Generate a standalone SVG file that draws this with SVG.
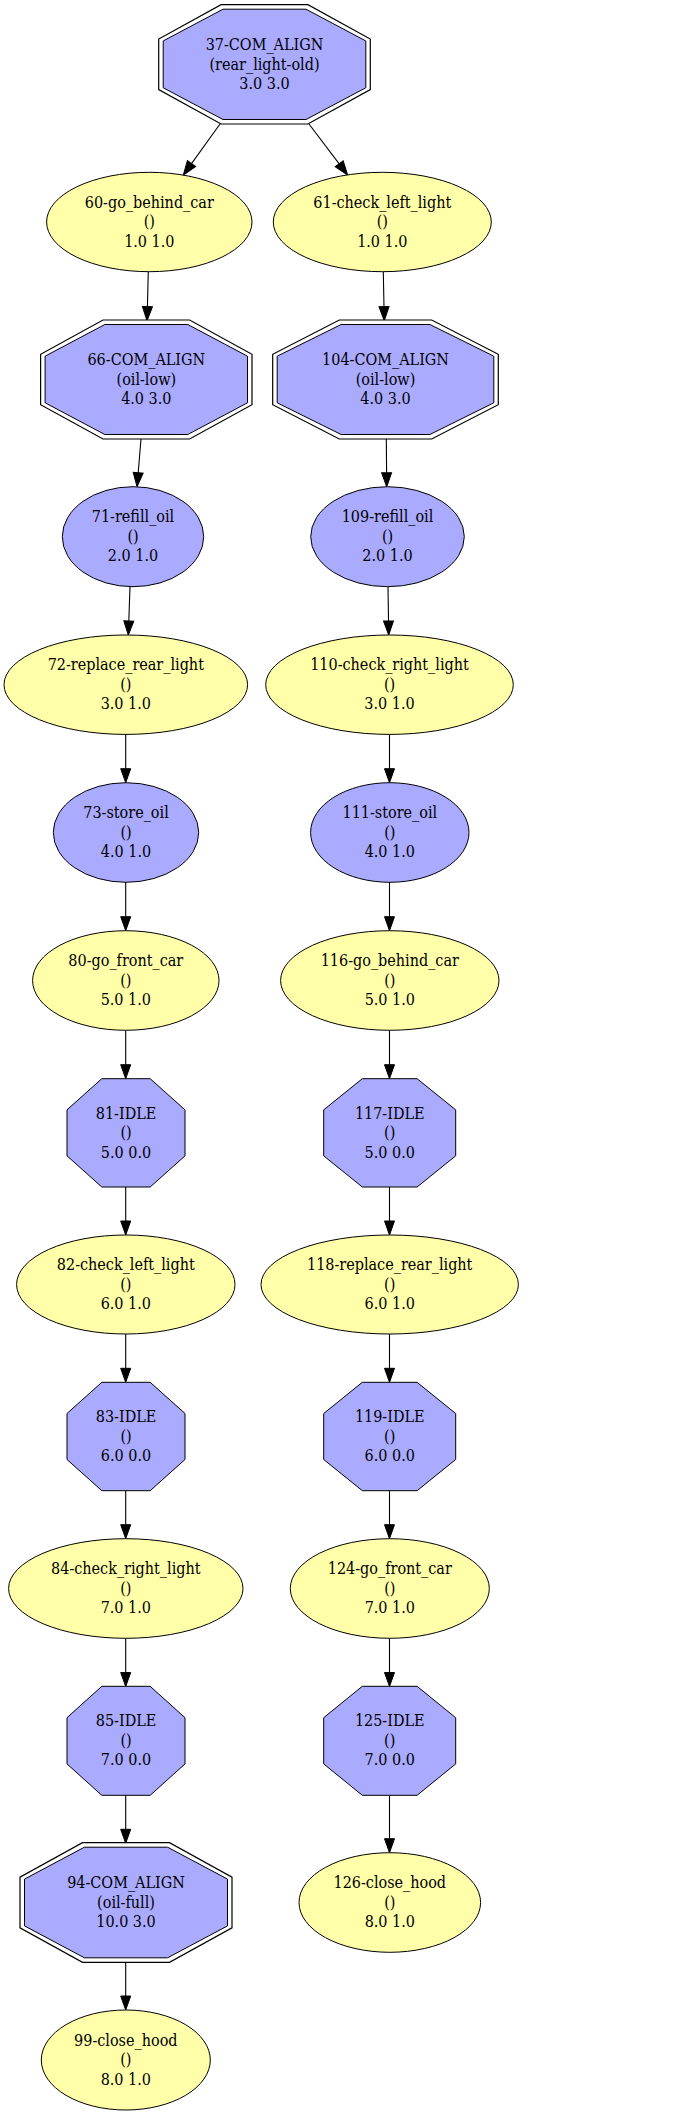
<svg xmlns="http://www.w3.org/2000/svg" width="679" height="2115" viewBox="0 0 679 2115">
<style>
text{font-family:"DejaVu Serif Condensed","DejaVu Serif","Liberation Serif",serif;font-stretch:condensed;font-size:16px;text-anchor:middle;fill:#000}
.y{fill:#ffffaa;stroke:#000;stroke-width:1}
.b{fill:#aaaaff;stroke:#000;stroke-width:1}
.o{fill:#fff;stroke:#000;stroke-width:1.2}
.e{fill:none;stroke:#000;stroke-width:1.1;marker-end:url(#ah)}
</style>
<defs>
<marker id="ah" markerUnits="userSpaceOnUse" markerWidth="15" markerHeight="11" refX="0" refY="5" orient="auto" overflow="visible">
<path d="M0,0 L14,5 L0,10 z" fill="#000" stroke="#000" stroke-width="1"/>
</marker>
</defs>
<rect width="679" height="2115" fill="#fff"/>
<g id="edges">
<line class="e" x1="220" y1="124" x2="191.5" y2="163.6"/>
<line class="e" x1="309" y1="124" x2="339.2" y2="163.8"/>
<line class="e" x1="148.3" y1="271.7" x2="147.4" y2="306.7"/>
<line class="e" x1="383.3" y1="271.7" x2="384" y2="306.7"/>
<line class="e" x1="141" y1="439" x2="138.2" y2="472.7"/>
<line class="e" x1="386.3" y1="439" x2="386.6" y2="472.7"/>
<line class="e" x1="130" y1="586.7" x2="128.8" y2="621"/>
<line class="e" x1="388" y1="586.7" x2="388.5" y2="621"/>
<line class="e" x1="125.7" y1="734.3" x2="125.7" y2="768.7"/>
<line class="e" x1="389.5" y1="734.3" x2="389.5" y2="768.7"/>
<line class="e" x1="125.7" y1="882.3" x2="125.7" y2="916.7"/>
<line class="e" x1="389.5" y1="882.3" x2="389.5" y2="916.7"/>
<line class="e" x1="125.7" y1="1030.3" x2="125.7" y2="1064.7"/>
<line class="e" x1="389.5" y1="1030.3" x2="389.5" y2="1064.7"/>
<line class="e" x1="125.7" y1="1187" x2="125.7" y2="1221"/>
<line class="e" x1="389.5" y1="1187" x2="389.5" y2="1221"/>
<line class="e" x1="125.7" y1="1334" x2="125.7" y2="1368.3"/>
<line class="e" x1="389.5" y1="1334" x2="389.5" y2="1368.3"/>
<line class="e" x1="125.7" y1="1490.7" x2="125.7" y2="1524.7"/>
<line class="e" x1="389.5" y1="1490.7" x2="389.5" y2="1524.7"/>
<line class="e" x1="125.7" y1="1638.3" x2="125.7" y2="1672.5"/>
<line class="e" x1="389.5" y1="1638.3" x2="389.5" y2="1672.5"/>
<line class="e" x1="125.7" y1="1795.3" x2="125.7" y2="1829.3"/>
<line class="e" x1="389.5" y1="1795.3" x2="389.5" y2="1838.7"/>
<line class="e" x1="125.7" y1="1962.3" x2="125.7" y2="1996"/>
</g>
<g id="n37">
<polygon class="o" points="221.1,4.7 307.9,4.7 370.3,39.05 370.3,89.65 307.9,124 221.1,124 158.7,89.65 158.7,39.05"/>
<polygon class="b" points="223,9.2 306,9.2 365.8,40.95 365.8,87.75 306,119.5 223,119.5 163.2,87.75 163.2,40.95"/>
<text x="264.5" y="50">37-COM_ALIGN</text><text x="264.5" y="69.5">(rear_light-old)</text><text x="264.5" y="89">3.0 3.0</text>
</g>
<g id="n60">
<ellipse class="y" cx="149.3" cy="222" rx="102.7" ry="49.7"/>
<text x="149.3" y="207.5">60-go_behind_car</text><text x="149.3" y="227">()</text><text x="149.3" y="246.5">1.0 1.0</text>
</g>
<g id="n61">
<ellipse class="y" cx="382.3" cy="222" rx="109" ry="49.7"/>
<text x="382.3" y="207.5">61-check_left_light</text><text x="382.3" y="227">()</text><text x="382.3" y="246.5">1.0 1.0</text>
</g>
<g id="n66">
<polygon class="o" points="103,320 189.6,320 252,354.3 252,404.7 189.6,439 103,439 40.6,404.7 40.6,354.3"/>
<polygon class="b" points="104.8,324.5 187.8,324.5 247.5,356.2 247.5,402.8 187.8,434.5 104.8,434.5 45.1,402.8 45.1,356.2"/>
<text x="146.3" y="365">66-COM_ALIGN</text><text x="146.3" y="384.5">(oil-low)</text><text x="146.3" y="404">4.0 3.0</text>
</g>
<g id="n104">
<polygon class="o" points="339.3,320 431.7,320 498.3,354.3 498.3,404.7 431.7,439 339.3,439 272.7,404.7 272.7,354.3"/>
<polygon class="b" points="341.1,324.5 429.9,324.5 493.8,356.2 493.8,402.8 429.9,434.5 341.1,434.5 277.2,402.8 277.2,356.2"/>
<text x="385.5" y="365">104-COM_ALIGN</text><text x="385.5" y="384.5">(oil-low)</text><text x="385.5" y="404">4.0 3.0</text>
</g>
<g id="n71">
<ellipse class="b" cx="133" cy="536.7" rx="70.7" ry="50"/>
<text x="133" y="522">71-refill_oil</text><text x="133" y="541.5">()</text><text x="133" y="561">2.0 1.0</text>
</g>
<g id="n109">
<ellipse class="b" cx="387.5" cy="536.7" rx="76.8" ry="50"/>
<text x="387.5" y="522">109-refill_oil</text><text x="387.5" y="541.5">()</text><text x="387.5" y="561">2.0 1.0</text>
</g>
<g id="n72">
<ellipse class="y" cx="125.8" cy="684.7" rx="121.8" ry="49.7"/>
<text x="125.8" y="670">72-replace_rear_light</text><text x="125.8" y="689.5">()</text><text x="125.8" y="709">3.0 1.0</text>
</g>
<g id="n110">
<ellipse class="y" cx="389.5" cy="684.7" rx="123.8" ry="49.7"/>
<text x="389.5" y="670">110-check_right_light</text><text x="389.5" y="689.5">()</text><text x="389.5" y="709">3.0 1.0</text>
</g>
<g id="n73">
<ellipse class="b" cx="126" cy="832.5" rx="72.7" ry="49.8"/>
<text x="126" y="818">73-store_oil</text><text x="126" y="837.5">()</text><text x="126" y="857">4.0 1.0</text>
</g>
<g id="n111">
<ellipse class="b" cx="389.8" cy="832.5" rx="79.2" ry="49.8"/>
<text x="389.8" y="818">111-store_oil</text><text x="389.8" y="837.5">()</text><text x="389.8" y="857">4.0 1.0</text>
</g>
<g id="n80">
<ellipse class="y" cx="125.8" cy="980.5" rx="93.2" ry="49.8"/>
<text x="125.8" y="966">80-go_front_car</text><text x="125.8" y="985.5">()</text><text x="125.8" y="1005">5.0 1.0</text>
</g>
<g id="n116">
<ellipse class="y" cx="389.8" cy="980.5" rx="109.2" ry="49.8"/>
<text x="389.8" y="966">116-go_behind_car</text><text x="389.8" y="985.5">()</text><text x="389.8" y="1005">5.0 1.0</text>
</g>
<g id="n81">
<polygon class="b" points="101.8,1078.7 150.2,1078.7 185,1109.85 185,1155.85 150.2,1187 101.8,1187 67,1155.85 67,1109.85"/>
<text x="126" y="1118.5">81-IDLE</text><text x="126" y="1138">()</text><text x="126" y="1157.5">5.0 0.0</text>
</g>
<g id="n117">
<polygon class="b" points="362.3,1078.7 417.1,1078.7 455.7,1109.85 455.7,1155.85 417.1,1187 362.3,1187 323.7,1155.85 323.7,1109.85"/>
<text x="389.7" y="1118.5">117-IDLE</text><text x="389.7" y="1138">()</text><text x="389.7" y="1157.5">5.0 0.0</text>
</g>
<g id="n82">
<ellipse class="y" cx="125.8" cy="1284.5" rx="109.2" ry="49.5"/>
<text x="125.8" y="1270">82-check_left_light</text><text x="125.8" y="1289.5">()</text><text x="125.8" y="1309">6.0 1.0</text>
</g>
<g id="n118">
<ellipse class="y" cx="389.7" cy="1284.5" rx="128.7" ry="49.5"/>
<text x="389.7" y="1270">118-replace_rear_light</text><text x="389.7" y="1289.5">()</text><text x="389.7" y="1309">6.0 1.0</text>
</g>
<g id="n83">
<polygon class="b" points="101.8,1382.3 150.2,1382.3 185,1413.5 185,1459.5 150.2,1490.7 101.8,1490.7 67,1459.5 67,1413.5"/>
<text x="126" y="1422">83-IDLE</text><text x="126" y="1441.5">()</text><text x="126" y="1461">6.0 0.0</text>
</g>
<g id="n119">
<polygon class="b" points="362.3,1382.3 417.1,1382.3 455.7,1413.5 455.7,1459.5 417.1,1490.7 362.3,1490.7 323.7,1459.5 323.7,1413.5"/>
<text x="389.7" y="1422">119-IDLE</text><text x="389.7" y="1441.5">()</text><text x="389.7" y="1461">6.0 0.0</text>
</g>
<g id="n84">
<ellipse class="y" cx="125.8" cy="1588.5" rx="117.2" ry="49.8"/>
<text x="125.8" y="1574">84-check_right_light</text><text x="125.8" y="1593.5">()</text><text x="125.8" y="1613">7.0 1.0</text>
</g>
<g id="n124">
<ellipse class="y" cx="389.8" cy="1588.5" rx="99.5" ry="49.8"/>
<text x="389.8" y="1574">124-go_front_car</text><text x="389.8" y="1593.5">()</text><text x="389.8" y="1613">7.0 1.0</text>
</g>
<g id="n85">
<polygon class="b" points="101.8,1686.3 150.2,1686.3 185,1717.7 185,1763.9 150.2,1795.3 101.8,1795.3 67,1763.9 67,1717.7"/>
<text x="126" y="1726.3">85-IDLE</text><text x="126" y="1745.8">()</text><text x="126" y="1765.3">7.0 0.0</text>
</g>
<g id="n125">
<polygon class="b" points="362.3,1686.3 417.1,1686.3 455.7,1717.7 455.7,1763.9 417.1,1795.3 362.3,1795.3 323.7,1763.9 323.7,1717.7"/>
<text x="389.7" y="1726.3">125-IDLE</text><text x="389.7" y="1745.8">()</text><text x="389.7" y="1765.3">7.0 0.0</text>
</g>
<g id="n94">
<polygon class="o" points="82.5,1842.7 169.5,1842.7 232,1877.1 232,1927.9 169.5,1962.3 82.5,1962.3 20,1927.9 20,1877.1"/>
<polygon class="b" points="84.4,1847.2 167.6,1847.2 227.5,1879.1 227.5,1925.9 167.6,1957.8 84.4,1957.8 24.5,1925.9 24.5,1879.1"/>
<text x="126" y="1888">94-COM_ALIGN</text><text x="126" y="1907.5">(oil-full)</text><text x="126" y="1927">10.0 3.0</text>
</g>
<g id="n126">
<ellipse class="y" cx="389.8" cy="1902.5" rx="90.8" ry="49.8"/>
<text x="389.8" y="1888">126-close_hood</text><text x="389.8" y="1907.5">()</text><text x="389.8" y="1927">8.0 1.0</text>
</g>
<g id="n99">
<ellipse class="y" cx="125.8" cy="2060" rx="84.5" ry="50"/>
<text x="125.8" y="2045.5">99-close_hood</text><text x="125.8" y="2065">()</text><text x="125.8" y="2084.5">8.0 1.0</text>
</g>
</svg>
